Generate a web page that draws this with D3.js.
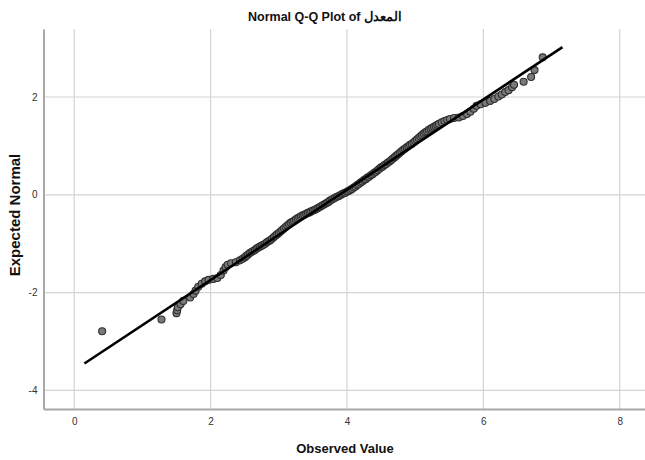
<!DOCTYPE html>
<html>
<head>
<meta charset="utf-8">
<script src="https://cdn.jsdelivr.net/npm/d3@7"></script>
<style>
  body { margin: 0; background: #fff; }
  svg { display: block; font-family: "Liberation Sans", Arial, sans-serif; }
</style>
</head>
<body>
<script>
// data
var xTicks = [0, 2, 4, 6, 8];
var yTicks = [2, 0, -2, -4];
var lineObserved = [0.15, 7.16];
var lineExpected = [-3.45, 3.02];

// [observed value, expected normal]
var qqPoints = [
  [0.41,-2.79],[1.28,-2.55],[1.50,-2.42],[1.51,-2.36],[1.52,-2.30],[1.56,-2.24],
  [1.60,-2.17],[1.70,-2.10],[1.75,-2.03],[1.78,-1.96],[1.82,-1.88],[1.87,-1.82],
  [1.92,-1.77],[1.97,-1.74],[2.04,-1.72],[2.10,-1.70],[2.15,-1.64],[2.19,-1.55],
  [2.22,-1.48],[2.25,-1.43],[2.30,-1.40],[2.37,-1.38],[2.43,-1.34],[2.47,-1.31],
  [2.50,-1.28],[2.525,-1.25],[2.55,-1.22],[2.575,-1.19],[2.60,-1.17],[2.625,-1.15],
  [2.65,-1.13],[2.675,-1.10],[2.70,-1.08],[2.725,-1.06],[2.75,-1.04],[2.775,-1.02],
  [2.80,-1.00],[2.825,-0.97],[2.85,-0.95],[2.875,-0.93],[2.90,-0.90],[2.925,-0.87],
  [2.95,-0.84],[2.975,-0.81],[3.00,-0.78],[3.025,-0.75],[3.05,-0.72],[3.075,-0.69],
  [3.10,-0.66],[3.125,-0.63],[3.15,-0.60],[3.175,-0.57],[3.20,-0.55],[3.225,-0.53],
  [3.25,-0.50],[3.275,-0.48],[3.30,-0.46],[3.325,-0.44],[3.35,-0.42],[3.375,-0.41],
  [3.40,-0.39],[3.425,-0.37],[3.45,-0.36],[3.475,-0.34],[3.50,-0.32],[3.525,-0.31],
  [3.55,-0.29],[3.575,-0.27],[3.60,-0.25],[3.625,-0.23],[3.65,-0.21],[3.675,-0.19],
  [3.70,-0.17],[3.725,-0.15],[3.75,-0.12],[3.775,-0.10],[3.80,-0.08],[3.825,-0.06],
  [3.85,-0.04],[3.875,-0.03],[3.90,-0.01],[3.925,0.01],[3.95,0.03],[3.975,0.04],
  [4.00,0.06],[4.025,0.08],[4.05,0.10],[4.075,0.12],[4.10,0.15],[4.125,0.17],
  [4.15,0.20],[4.175,0.22],[4.20,0.25],[4.225,0.27],[4.25,0.30],[4.275,0.32],
  [4.30,0.35],[4.325,0.37],[4.35,0.40],[4.375,0.42],[4.40,0.45],[4.425,0.47],
  [4.45,0.50],[4.475,0.53],[4.50,0.56],[4.525,0.58],[4.55,0.61],[4.575,0.63],
  [4.60,0.66],[4.625,0.68],[4.65,0.71],[4.675,0.74],[4.70,0.77],[4.725,0.80],
  [4.75,0.83],[4.775,0.86],[4.80,0.89],[4.825,0.92],[4.85,0.94],[4.875,0.97],
  [4.90,0.99],[4.925,1.02],[4.95,1.04],[4.975,1.07],[5.00,1.10],[5.025,1.13],
  [5.05,1.16],[5.075,1.19],[5.10,1.22],[5.125,1.25],[5.15,1.28],[5.175,1.30],
  [5.20,1.33],[5.225,1.35],[5.25,1.37],[5.275,1.39],[5.30,1.41],[5.325,1.43],
  [5.35,1.45],[5.39,1.48],[5.43,1.51],[5.47,1.53],[5.51,1.55],[5.57,1.57],
  [5.64,1.58],[5.70,1.61],[5.76,1.65],[5.81,1.70],[5.86,1.76],[5.90,1.82],
  [5.96,1.85],[6.03,1.88],[6.10,1.92],[6.16,1.96],[6.22,2.01],[6.27,2.05],
  [6.32,2.10],[6.37,2.14],[6.42,2.20],[6.45,2.25],[6.59,2.31],[6.70,2.41],
  [6.75,2.55],[6.87,2.81]
];

var width = 645, height = 460;
var plotLeft = 43.5, plotRight = 645, plotTop = 29, plotBottom = 409;

var svg = d3.select("body").append("svg")
    .attr("width", width)
    .attr("height", height);

var x = d3.scaleLinear().domain([-0.45, 8.37]).range([plotLeft, plotRight]);
var y = d3.scaleLinear().domain([-4.38, 3.39]).range([plotBottom, plotTop]);

// grid
svg.append("g").selectAll("line")
    .data(xTicks)
    .enter().append("line")
    .attr("x1", function(d){ return x(d); })
    .attr("x2", function(d){ return x(d); })
    .attr("y1", plotTop)
    .attr("y2", plotBottom)
    .attr("stroke", "#d4d4d4")
    .attr("stroke-width", 1.2);

svg.append("g").selectAll("line")
    .data(yTicks)
    .enter().append("line")
    .attr("x1", plotLeft)
    .attr("x2", plotRight)
    .attr("y1", function(d){ return y(d); })
    .attr("y2", function(d){ return y(d); })
    .attr("stroke", "#d4d4d4")
    .attr("stroke-width", 1.2);

// axes
var xAxis = d3.axisBottom(x).tickValues(xTicks).tickSize(0).tickPadding(9)
    .tickFormat(function(d){ return String(d); });
var yAxis = d3.axisLeft(y).tickValues(yTicks).tickSize(0).tickPadding(6)
    .tickFormat(function(d){ return String(d); });

var gx = svg.append("g").attr("transform", "translate(0," + plotBottom + ")").call(xAxis);
var gy = svg.append("g").attr("transform", "translate(" + plotLeft + ",0)").call(yAxis);

[gx, gy].forEach(function(g){
    g.select(".domain").attr("stroke", "#a8a8a8").attr("stroke-width", 2);
    g.selectAll("text").attr("fill", "#333").style("font-size", "10px");
});

// points
svg.append("g").selectAll("circle")
    .data(qqPoints)
    .enter().append("circle")
    .attr("cx", function(d){ return x(d[0]); })
    .attr("cy", function(d){ return y(d[1]); })
    .attr("r", 3.5)
    .attr("fill", "#7a7a7a")
    .attr("stroke", "#2e2e2e")
    .attr("stroke-width", 1.1);

// reference line, on top of the points
svg.append("line")
    .attr("x1", x(lineObserved[0]))
    .attr("y1", y(lineExpected[0]))
    .attr("x2", x(lineObserved[1]))
    .attr("y2", y(lineExpected[1]))
    .attr("stroke", "#000")
    .attr("stroke-width", 2.6);

// titles
svg.append("text")
    .attr("x", 325)
    .attr("y", 21)
    .attr("text-anchor", "middle")
    .style("font-size", "12.5px")
    .style("font-weight", "bold")
    .attr("fill", "#111")
    .text("Normal Q-Q Plot of المعدل");

svg.append("text")
    .attr("transform", "translate(20,215) rotate(-90)")
    .attr("text-anchor", "middle")
    .style("font-size", "15px")
    .style("font-weight", "bold")
    .attr("fill", "#111")
    .text("Expected Normal");

svg.append("text")
    .attr("x", 345)
    .attr("y", 453)
    .attr("text-anchor", "middle")
    .style("font-size", "13px")
    .style("font-weight", "bold")
    .attr("fill", "#111")
    .text("Observed Value");
</script>
</body>
</html>
